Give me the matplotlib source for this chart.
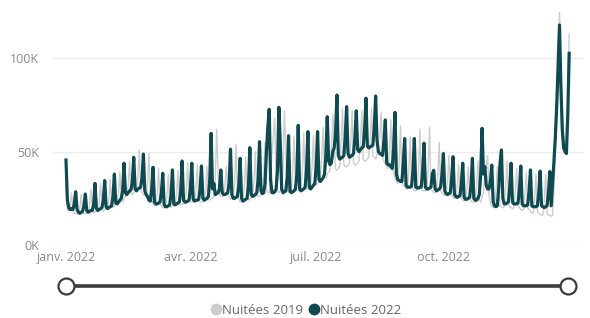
import matplotlib
matplotlib.use("Agg")
import matplotlib.pyplot as plt
import matplotlib.ticker as mticker
from matplotlib.lines import Line2D
import pandas as pd

# Daily values in thousands of nights, 2022 calendar (each row = one week starting Saturday)
nuitees_2022 = [
    45.5, 24, 20, 19, 19.5, 19, 22,
    28.5, 19, 17.5, 17, 17.5, 18, 21,
    27.3, 18.5, 17.5, 18, 18.5, 18.5, 21.5,
    33, 19.5, 18.5, 19, 19.5, 20, 24,
    34.5, 20.5, 19.5, 20, 20.5, 21, 26,
    38, 22.5, 22, 23, 24, 25, 29,
    43.8, 28, 27, 28, 29, 29.5, 34,
    47, 30, 29, 30, 30.5, 31, 36,
    48.7, 29, 27, 26, 24, 23.5, 30,
    41.6, 23, 22, 22, 22.5, 23, 28,
    38.4, 21.5, 20.5, 20.5, 21, 21.5, 27,
    40.2, 22, 21.5, 22, 22.5, 23, 29,
    45, 24, 23, 23, 23.5, 24, 30,
    43.8, 24.5, 23.5, 24, 24, 24.5, 30,
    42.3, 25, 24, 24.5, 25, 26, 35,
    59.8, 30, 33, 27, 27.5, 28, 30,
    40.2, 28, 27, 27, 27.5, 28, 33,
    51.3, 27, 25, 25, 25.5, 26, 32,
    46.4, 25, 23.5, 24, 24.5, 25, 32,
    52.1, 27, 26, 26.5, 27, 28, 35,
    55.3, 29, 27.5, 28, 33, 50, 63,
    72.7, 35, 28, 28, 28.5, 30, 40,
    73.7, 55, 30, 28, 28.5, 29, 36,
    58.5, 29, 28, 28.5, 29, 30, 38,
    64.1, 30, 29, 29.5, 30, 31, 40,
    60.7, 31, 30, 31, 32, 33, 42,
    60.7, 35, 34, 35, 36, 38, 48,
    68.7, 45, 43, 44, 50, 52, 60,
    80.3, 48, 46, 46.5, 47, 48, 58,
    74.1, 49, 47, 47.5, 48, 49, 58,
    71.9, 51, 50, 51, 52, 52.5, 62,
    78.6, 53, 52, 52.5, 53, 53.5, 63,
    79.8, 56, 50, 49, 48.5, 48, 56,
    67, 44, 43, 43, 42, 41, 52,
    71, 38, 35, 34.5, 34, 34, 44,
    57, 32, 31, 31, 31, 31.5, 40,
    57, 31, 30.5, 30.5, 31, 31, 40,
    54.5, 31, 30, 30, 30.5, 31, 38,
    40, 30, 29, 29.5, 30, 31, 38,
    49, 29, 27.5, 27, 27.5, 28, 36,
    47.3, 27, 26, 25.5, 26, 26.5, 33,
    43.8, 25.5, 24.5, 24.5, 25, 25.5, 32,
    46.4, 25, 24, 24, 25, 27, 38,
    62.5, 38, 42, 32, 30, 30, 34,
    42.8, 23, 21, 20.5, 21, 30, 44,
    50.9, 25, 22, 22, 22.5, 23, 31,
    43.8, 23, 22, 22, 22, 22.5, 30,
    42.3, 22, 21, 21, 21, 21.5, 29,
    40.2, 21, 20.5, 20.5, 20.5, 21, 28,
    39.6, 21, 20.5, 20, 20.5, 21, 28,
    39.3, 21, 33, 45, 58, 75, 97,
    117.8, 85, 62, 52, 50, 49, 70,
    102.7,
]

# Same calendar dates in 2019
nuitees_2019 = [
    32, 19, 18, 21, 28, 19, 17,
    17, 16.5, 17, 20, 27, 18, 16.5,
    17, 17, 17.5, 21, 30, 18.5, 17,
    18, 18, 18.5, 23, 33, 19, 18,
    19, 19.5, 20, 25, 35, 21, 20,
    21, 22, 23, 28, 39, 24, 23,
    25, 26, 27, 32, 45, 28, 27,
    28, 29, 30, 36, 51, 30, 28,
    27, 27, 26, 33, 49, 27, 24,
    22, 21, 21.5, 27, 41, 22, 21,
    20, 20, 20.5, 26, 38, 21, 20,
    21, 21, 21.5, 27, 40, 22, 21.5,
    22, 22, 22.5, 29, 44, 23.5, 23,
    23, 23, 23.5, 29, 43, 24, 23,
    23, 23.5, 24, 29, 42, 25, 24,
    25, 25, 26, 36, 62, 38, 28,
    26, 26, 27, 32, 42, 27, 26,
    25, 25, 26, 34, 54, 27, 25,
    23, 23.5, 24, 31, 47, 25, 24,
    25, 25.5, 26, 34, 50, 27, 26,
    26, 27, 28, 37, 55, 30, 28,
    28, 36, 50, 58, 68, 34, 29,
    28, 29, 30, 40, 72, 52, 30,
    28, 28.5, 29, 39, 58, 30, 29,
    29, 29.5, 30, 40, 60, 31, 30,
    30, 31, 32, 42, 58, 33, 32,
    33, 34, 36, 47, 63, 37, 36,
    38, 39, 40, 52, 70, 55, 41,
    40, 41, 42, 54, 73, 43, 42,
    42, 43, 43.5, 55, 72, 44, 43,
    43, 44, 45, 56, 72, 46, 45,
    45, 46, 47, 57, 73, 48, 47,
    46, 48, 55, 58, 71, 47, 45,
    43, 42, 41, 50, 67, 41, 39,
    36, 34, 33, 44, 64, 34, 32,
    31, 30, 30, 40, 58, 31, 30,
    29, 29, 29.5, 40, 62, 30, 29,
    29, 29, 29.5, 41, 63, 30, 29,
    28, 28, 28.5, 38, 55, 29, 28,
    27, 26.5, 27, 34, 48, 27.5, 26.5,
    25.5, 25, 25.5, 31, 43, 26, 25,
    24, 23.5, 24, 30, 42, 24.5, 23.5,
    23, 23, 23.5, 31, 45, 24, 23,
    26, 28, 38, 42, 48, 27, 22,
    21, 20, 20.5, 28, 42, 32, 21,
    20.5, 20, 20.5, 30, 45, 22, 20.5,
    20, 19.5, 20, 28, 41, 21, 20,
    19, 18.5, 19, 27, 39, 20, 19,
    18, 17.5, 17, 25, 38, 18, 17,
    16.5, 16, 16, 24, 38, 17, 16,
    16, 15.5, 16, 30, 50, 72, 100,
    125, 95, 70, 58, 52, 53, 80,
    113,
]

dates = pd.date_range("2022-01-01", "2022-12-31", freq="D")
tick_dates = pd.to_datetime(["2022-01-01", "2022-04-01", "2022-07-01", "2022-10-01"])
tick_labels = ["janv. 2022", "avr. 2022", "juil. 2022", "oct. 2022"]
y_ticks = [0, 50, 100]
series_names = ["Nuitées 2019", "Nuitées 2022"]

FONT = ["Open Sans", "DejaVu Sans"]
plt.rcParams["font.family"] = FONT

W, H = 590, 318
fig = plt.figure(figsize=(W / 100, H / 100), dpi=100)
fig.patch.set_facecolor("white")

ax_left, ax_right = 53, 583
ax_top, ax_bot = 11.6, 245
ax = fig.add_axes([ax_left / W, 1 - ax_bot / H, (ax_right - ax_left) / W, (ax_bot - ax_top) / H])

c2019 = "#cdcdcd"
c2022 = "#0f4a51"
ax.plot(dates, nuitees_2019, color=c2019, lw=1.0, zorder=2)
ax.plot(dates, nuitees_2022, color=c2022, lw=2.3, zorder=3, solid_joinstyle="round")

x0 = pd.Timestamp("2022-01-01")
ax.set_xlim(x0 - pd.Timedelta(days=9.4), x0 + pd.Timedelta(days=374))
ax.set_ylim(0, 125)

ax.set_yticks(y_ticks)
ax.yaxis.set_major_formatter(mticker.FuncFormatter(lambda v, p: f"{int(v)}K"))
ax.set_xticks(tick_dates)
ax.set_xticklabels(tick_labels)

for s in ax.spines.values():
    s.set_visible(False)
ax.grid(axis="y", color="#ececec", lw=1.0)
ax.grid(axis="x", visible=False)
ax.set_axisbelow(True)
ax.tick_params(axis="both", length=0, colors="#8a8a8a", labelsize=9)
ax.tick_params(axis="y", pad=10)
ax.tick_params(axis="x", pad=4)

# Range slider beneath the chart
sy = 1 - 286 / H
fig.add_artist(Line2D([66 / W, 568 / W], [sy, sy], color="#3c3c3c", lw=2.6,
                      transform=fig.transFigure, solid_capstyle="butt"))
fig.add_artist(Line2D([66 / W, 568 / W], [sy, sy], ls="none", marker="o", ms=11.5,
                      mfc="white", mec="#3c3c3c", mew=1.6, transform=fig.transFigure))

handles = [Line2D([], [], ls="none", marker="o", ms=7.5, mfc=c2019, mec=c2019),
           Line2D([], [], ls="none", marker="o", ms=7.5, mfc=c2022, mec=c2022)]
leg = fig.legend(handles, series_names, loc="center", bbox_to_anchor=(306 / W, 1 - 310 / H),
                 ncol=2, frameon=False, fontsize=9.5, handletextpad=0.1, columnspacing=0.4,
                 handlelength=0.8, borderpad=0)
for t in leg.get_texts():
    t.set_color("#666666")

fig.savefig("out.png", dpi=100)
